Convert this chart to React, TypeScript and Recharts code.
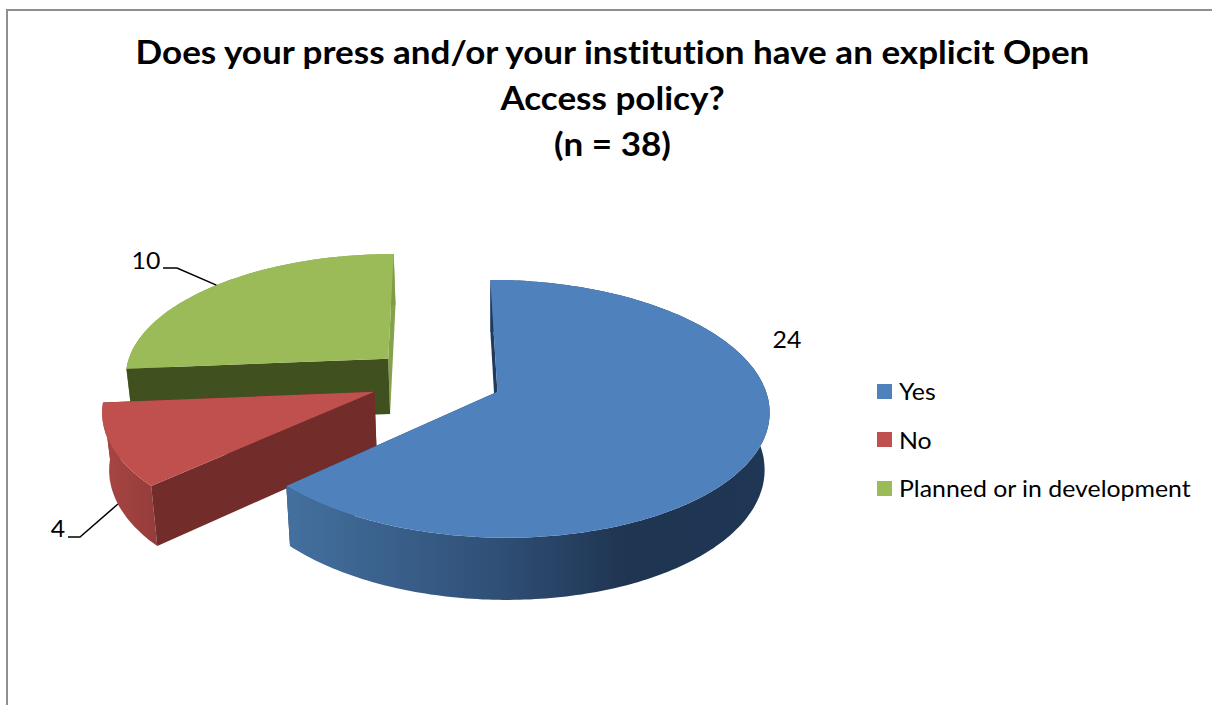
import { Legend, Pie, PieChart } from "recharts";

const CATEGORIES = ["Yes", "No", "Planned or in development"];
const COUNTS = [24, 4, 10];
const TITLE_LINES = [
  "Does your press and/or your institution have an explicit Open",
  "Access policy?",
  "(n = 38)",
];

const tableData = CATEGORIES.map((name, i) => ({ name, value: COUNTS[i] }));

const TOP_COLORS = ["#4f81bd", "#c0504d", "#9bbb59"];
const CUT_COLORS = ["#1f3a5c", "#722d2b", "#41501f"]; // radial faces
const FONT = "Lato, sans-serif";
const TITLE_STRETCH = 1.095; // the reference text is wider than Lato
const TEXT_STRETCH = 1.08;

// fake 3d: pie plane seen in perspective
const TILT = 0.472;
const PERSPECTIVE = 0.132;
const EXPLODE = 0.25;
const ORIGIN_U = -0.004;
const ORIGIN_V = -0.11;
const RAD = Math.PI / 180;

type Pt = [number, number];

function project(s: any, angle: number, radius = 1): Pt {
  const u = ORIGIN_U + EXPLODE * Math.cos(s.midAngle * RAD) + radius * Math.cos(angle * RAD);
  const v = ORIGIN_V - EXPLODE * Math.sin(s.midAngle * RAD) - radius * Math.sin(angle * RAD);
  const f = 1 / (1 - PERSPECTIVE * v);
  return [s.cx + s.outerRadius * u * f, s.cy + s.outerRadius * TILT * v * f];
}

// the bottom of the slab: shifted down, slightly narrower
function toBase([x, y]: Pt): Pt {
  return [490 + (x - 490) * 0.982, y + 55 + (y - 357) * 0.04];
}

function pathOf(points: Pt[]) {
  return "M" + points.map((p) => `${p[0].toFixed(1)},${p[1].toFixed(1)}`).join("L") + "Z";
}

function arcPoints(s: any): Pt[] {
  const pts: Pt[] = [];
  const steps = Math.ceil(Math.abs(s.startAngle - s.endAngle));
  for (let i = 0; i <= steps; i++) {
    pts.push(project(s, s.startAngle + ((s.endAngle - s.startAngle) * i) / steps));
  }
  return pts;
}

function Slab(props: any, only: number) {
  if (props.index !== only) return <g key={props.index} />;
  const arc = arcPoints(props);
  const apex = project(props, 0, 0);
  const first = arc[0];
  const last = arc[arc.length - 1];
  const cutColor = CUT_COLORS[only];
  const wall = [...arc, ...arc.map(toBase).reverse()];
  return (
    <g key={props.index}>
      <defs>
        <linearGradient id="wall-0" x1="0" x2="1" y1="0" y2="0">
          <stop offset="0" stopColor="#44709f" />
          <stop offset="0.44" stopColor="#2f4f76" />
          <stop offset="0.7" stopColor="#1f3551" />
          <stop offset="1" stopColor="#1e3755" />
        </linearGradient>
        <linearGradient id="wall-1" x1="0" x2="1" y1="0" y2="0">
          <stop offset="0" stopColor="#a84644" />
          <stop offset="1" stopColor="#953c3a" />
        </linearGradient>
        <linearGradient id="wall-2" x1="0" x2="1" y1="0" y2="0">
          <stop offset="0" stopColor="#7f9c49" />
          <stop offset="1" stopColor="#7f9c49" />
        </linearGradient>
      </defs>
      <path d={pathOf([apex, last, toBase(last), toBase(apex)])} fill={only === 2 ? "#84a24c" : cutColor} />
      <path d={pathOf(wall)} fill={`url(#wall-${only})`} />
      <path d={pathOf([apex, first, toBase(first), toBase(apex)])} fill={cutColor} />
      <path d={pathOf([apex, ...arc])} fill={TOP_COLORS[only]} />
    </g>
  );
}

// where the value labels sit, with their leader lines
const LABEL_SPOTS = [
  { x: 787, y: 339, leader: null },
  { x: 58, y: 528, leader: { tail: [68, 537], elbow: [80, 537], onBase: true } },
  { x: 146, y: 260, leader: { tail: [163, 268], elbow: [177, 268], onBase: false } },
];

function ValueLabel(props: any, only: number) {
  if (props.index !== only) return <g key={props.index} />;
  const spot = LABEL_SPOTS[only];
  let line = null;
  if (spot.leader) {
    const edge = project(props, props.midAngle);
    const end = spot.leader.onBase ? toBase(edge) : edge;
    const pts = [spot.leader.tail, spot.leader.elbow, end];
    line = <polyline points={pts.map((p) => p.join(",")).join(" ")} fill="none" stroke="#000" strokeWidth={1.5} />;
  }
  return (
    <g key={props.index}>
      {line}
      <text
        transform={`translate(${spot.x},${spot.y}) scale(${TEXT_STRETCH},1)`}
        textAnchor="middle"
        dominantBaseline="central"
        fontFamily={FONT}
        fontSize={23}
        fill="#000"
      >
        {COUNTS[only]}
      </text>
    </g>
  );
}

function LegendBox() {
  return (
    <div style={{ position: "absolute", left: 877, top: 367 }}>
      {CATEGORIES.map((name, i) => (
        <div key={name} style={{ display: "flex", alignItems: "center", height: 48.5, whiteSpace: "nowrap" }}>
          <span style={{ display: "inline-block", width: 15, height: 15, marginRight: 7, background: TOP_COLORS[i] }} />
          <span
            style={{
              display: "inline-block",
              fontFamily: FONT,
              fontSize: 23,
              color: "#000",
              fontVariantLigatures: "none",
              transform: `scaleX(${TEXT_STRETCH})`,
              transformOrigin: "left center",
            }}
          >
            {name}
          </span>
        </div>
      ))}
    </div>
  );
}

// drawn back to front so that the nearer slices cover the farther ones
const DRAW_ORDER = [2, 1, 0];

export default function App() {
  return (
    <div style={{ position: "absolute", left: 0, top: 0, width: 1212, height: 705, overflow: "hidden", background: "#fff" }}>
      <div style={{ position: "absolute", left: 6, top: 9, width: 1400, height: 900, border: "2px solid #8f8f8f" }} />
      <div
        style={{
          position: "absolute",
          left: 0,
          top: 29,
          width: 1225,
          textAlign: "center",
          fontFamily: FONT,
          fontWeight: 700,
          fontSize: 32,
          lineHeight: "46px",
          color: "#000",
          fontVariantLigatures: "none",
          transform: `scaleX(${TITLE_STRETCH})`,
          transformOrigin: "center",
        }}
      >
        {TITLE_LINES.map((line) => (
          <div key={line}>{line}</div>
        ))}
      </div>
      <div style={{ position: "absolute", left: 0, top: 0 }}>
        <PieChart width={1212} height={705} margin={{ top: 0, right: 0, bottom: 0, left: 0 }}>
          {DRAW_ORDER.map((only) => (
            <Pie
              key={only}
              data={tableData}
              dataKey="value"
              nameKey="name"
              cx={437}
              cy={393}
              outerRadius={269}
              startAngle={90}
              endAngle={-270}
              stroke="none"
              isAnimationActive={false}
              labelLine={false}
              label={(p: any) => ValueLabel(p, only)}
              shape={(p: any) => Slab(p, only)}
            />
          ))}
          <Legend content={() => <LegendBox />} wrapperStyle={{ position: "absolute", left: 0, top: 0, width: 0, height: 0 }} />
        </PieChart>
      </div>
    </div>
  );
}
